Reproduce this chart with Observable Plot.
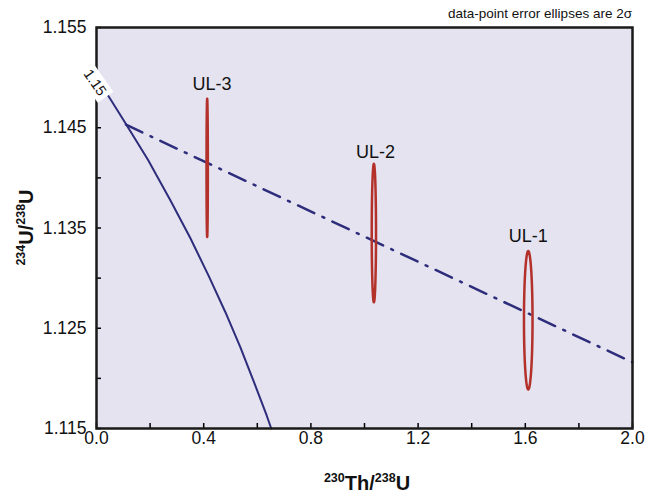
<!DOCTYPE html>
<html><head><meta charset="utf-8">
<script src="https://cdn.jsdelivr.net/npm/d3@7"></script>
<script src="https://cdn.jsdelivr.net/npm/@observablehq/plot@0.6"></script>
<style>
body{margin:0;background:#fff}
svg{font-family:"Liberation Sans",Arial,sans-serif}
</style>
</head><body><div id="chart"></div>
<script>
// Evolution curve (initial 234U/238U = 1.15)
const curveTh = [0.000, 0.051, 0.100, 0.192, 0.275, 0.350, 0.419, 0.481, 0.537, 0.588, 0.635, 0.652];
const curveU  = [1.1500, 1.1479, 1.1458, 1.1418, 1.1378, 1.1340, 1.1302, 1.1266, 1.1231, 1.1196, 1.1163, 1.1150];
const curveLabel = ["1.15"];
const curveLabelTh = [-0.006];
const curveLabelU = [1.1495];

// Dash-dot line
const lineTh = [0.11, 2.0];
const lineU  = [1.1453, 1.1216];

// Samples (2σ error ellipses)
const samples  = ["UL-3", "UL-2", "UL-1"];
const sampleTh = [0.413, 1.035, 1.611];
const sampleU  = [1.1410, 1.1345, 1.1258];
const errTh    = [0.0025, 0.0080, 0.0160];
const errU     = [0.0069, 0.0069, 0.0069];
const labelTh  = [0.431, 1.041, 1.611];
const labelU   = [1.1493, 1.1426, 1.1342];

// Ticks
const xTicks  = [0, 0.2, 0.4, 0.6, 0.8, 1.0, 1.2, 1.4, 1.6, 1.8, 2.0];
const xLabels = [0, 0.4, 0.8, 1.2, 1.6, 2.0];
const yTicks  = [1.115, 1.12, 1.125, 1.13, 1.135, 1.14, 1.145, 1.15, 1.155];
const yLabels = [1.115, 1.125, 1.135, 1.145, 1.155];
const note = "data-point error ellipses are 2σ";

const W = 647, H = 496, mL = 96, mR = 15, mT = 27, mB = 68;
const navy = "#2e2d7c", red = "#b3312a";

const curve = curveTh.map((t, i) => ({th: t, u: curveU[i]}));
const line = lineTh.map((t, i) => ({th: t, u: lineU[i]}));
const ellipses = [];
samples.forEach((s, i) => {
  for (let k = 0; k <= 72; k++) {
    const a = 2 * Math.PI * k / 72;
    ellipses.push({s, th: sampleTh[i] + errTh[i] * Math.cos(a), u: sampleU[i] + errU[i] * Math.sin(a)});
  }
});
const labels = samples.map((s, i) => ({s, th: labelTh[i], u: labelU[i]}));
const near = (arr, v) => arr.some(d => Math.abs(d - v) < 1e-9);

const chart = Plot.plot({
  width: W, height: H,
  marginLeft: mL, marginRight: mR, marginTop: mT, marginBottom: mB,
  style: {fontFamily: '"Liberation Sans", Arial, sans-serif', background: "#fff"},
  x: {domain: [0, 2]},
  y: {domain: [1.115, 1.155]},
  marks: [
    Plot.frame({fill: "#e4e3ef", stroke: null}),
    Plot.line(curve, {x: "th", y: "u", stroke: navy, strokeWidth: 2}),
    Plot.line(line, {x: "th", y: "u", stroke: navy, strokeWidth: 2.5, strokeDasharray: "18,9,2,9"}),
    Plot.line(ellipses, {x: "th", y: "u", z: "s", stroke: red, strokeWidth: 2.5, curve: "linear-closed"}),
    Plot.text(labels, {x: "th", y: "u", text: "s", fontSize: 18, fill: "#111"}),
    Plot.axisX(xTicks, {tickSize: -5, tickPadding: 8, strokeWidth: 1.5, fontSize: 17.5, fill: "#111", tickFormat: d => near(xLabels, d) ? d.toFixed(1) : "", label: null}),
    Plot.axisY(yTicks, {tickSize: -5, tickPadding: 15, strokeWidth: 1.5, fontSize: 17.5, fill: "#111", tickFormat: d => near(yLabels, d) ? d.toFixed(3) : "", label: null}),
    Plot.frame({stroke: "#1a1a1a", strokeWidth: 2.5}),
    Plot.text(curveLabel, {x: () => curveLabelTh[0], y: () => curveLabelU[0], text: d => d, rotate: 55, fontSize: 14.5, fill: "#111", className: "curvelabel"})
  ]
});
document.getElementById("chart").append(chart);

const svg = d3.select(chart);
// white box behind the "1.15" curve label
svg.selectAll("g.curvelabel text").each(function() {
  const b = this.getBBox();
  const r = document.createElementNS("http://www.w3.org/2000/svg", "rect");
  r.setAttribute("x", b.x - 4); r.setAttribute("y", b.y - 1.5);
  r.setAttribute("width", b.width + 8); r.setAttribute("height", b.height + 3);
  r.setAttribute("fill", "#fff");
  const tr = this.getAttribute("transform"); if (tr) r.setAttribute("transform", tr);
  this.parentNode.insertBefore(r, this);
});

const cx = mL + (W - mL - mR) / 2, cy = mT + (H - mT - mB) / 2;
function title(sel, parts) {
  parts.forEach(([t, sup]) => {
    sel.append("tspan").attr("font-size", sup ? 12.5 : 20).attr("baseline-shift", sup ? "60%" : null).text(t);
  });
}
const xt = svg.append("text").attr("x", cx + 3).attr("y", H - 6).attr("text-anchor", "middle")
  .attr("font-weight", "bold").attr("font-size", 20).attr("fill", "#111");
title(xt, [["230", true], ["Th/", false], ["238", true], ["U", false]]);
const yt = svg.append("text").attr("transform", `translate(33,${cy}) rotate(-90)`).attr("text-anchor", "middle")
  .attr("font-weight", "bold").attr("font-size", 20).attr("fill", "#111");
title(yt, [["234", true], ["U/", false], ["238", true], ["U", false]]);
svg.append("text").attr("x", W - mR).attr("y", 18).attr("text-anchor", "end")
  .attr("font-size", 13.5).attr("fill", "#111").text(note);
</script>
</body></html>
